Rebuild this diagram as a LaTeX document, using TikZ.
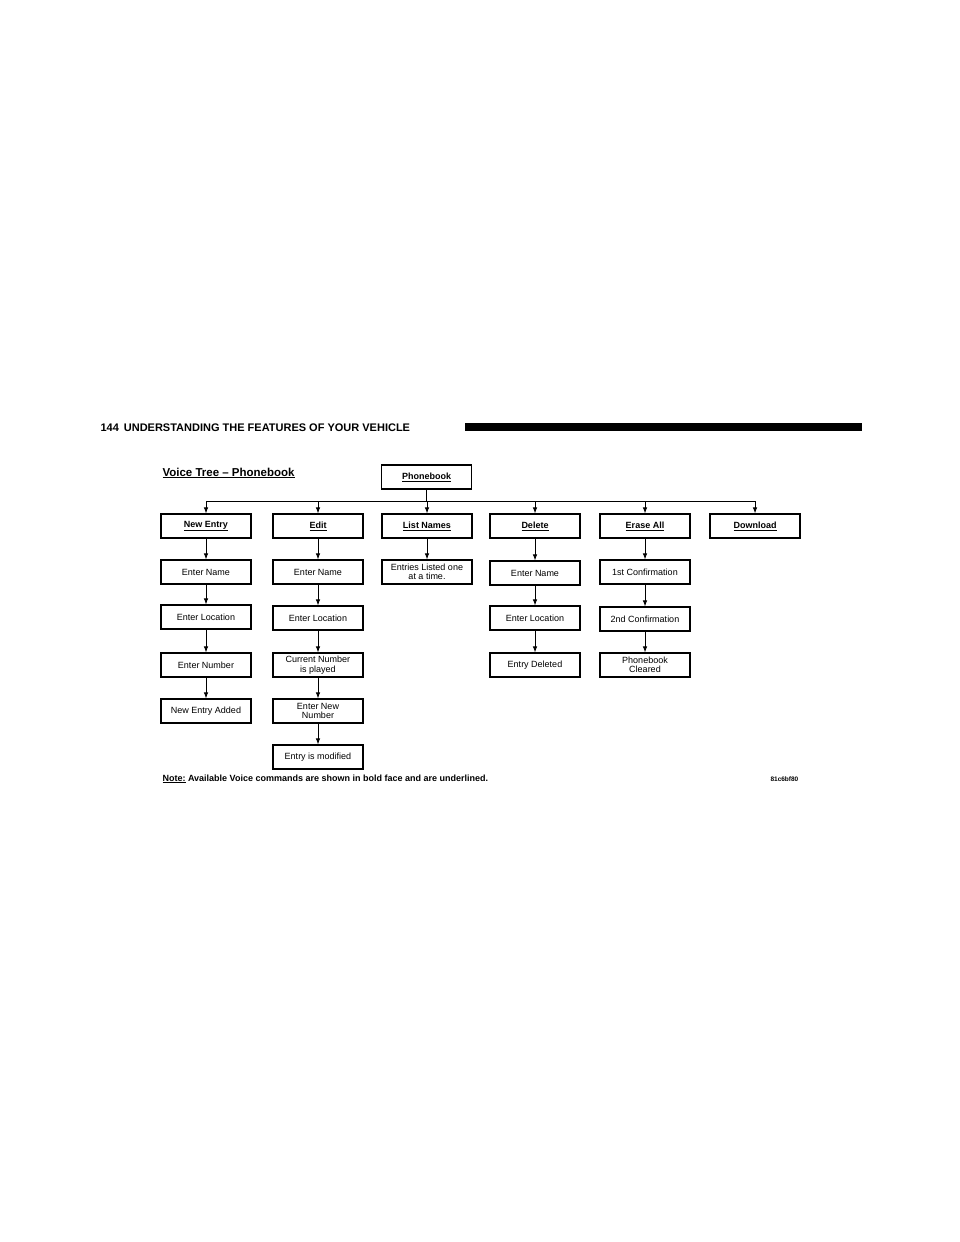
\documentclass[tikz,border=0pt]{standalone}
\usepackage{fontspec}
\setmainfont{Liberation Sans}
\usetikzlibrary{arrows.meta}
\begin{document}
\begin{tikzpicture}[x=1pt,y=-1pt,
 box/.style={draw,line width=1.2pt,minimum width=90pt,minimum height=24pt,inner sep=1pt,align=center,font=\fontsize{9}{9.5}\selectfont},
 cmd/.style={box,font=\fontsize{9}{10}\selectfont\bfseries},
 arr/.style={line width=0.8pt,-{Latex[length=6pt,width=4.5pt]}}]
\useasboundingbox (0,0) rectangle (960,1242);
\node[anchor=base west,font=\fontsize{11}{12}\selectfont\bfseries] (hdr) at (97,431) {144\hspace{5pt}UNDERSTANDING THE FEATURES OF YOUR VEHICLE};
\fill (465,423) rectangle (862,431);
\node[anchor=base west,font=\fontsize{11.5}{12}\selectfont\bfseries] (title) at (159,476) {\underline{Voice Tree – Phonebook}};
\node[cmd] (pb) at (426.5,477) {\underline{Phonebook}};
\foreach \n/\x/\t in {ne/206/New Entry,ed/318/Edit,ln/427/List Names,de/535/Delete,ea/645/Erase All,dl/755/Download}{
 \node[cmd] (\n) at (\x,526) {\underline{\t}};
}
\coordinate (hl) at (206,501); \coordinate (hr) at (755,501);
\draw[line width=0.8pt] (hl) -- (hr);
\draw[line width=0.8pt] (pb.south) -- (pb.south |- hl);
\foreach \n in {ne,ed,ln,de,ea,dl}{ \draw[arr] (\n.north |- hl) -- (\n.north); }
% New Entry column
\node[box] (ne1) at (206,572) {Enter Name};
\node[box] (ne2) at (206,617) {Enter Location};
\node[box] (ne3) at (206,665) {Enter Number};
\node[box] (ne4) at (206,711) {New Entry Added};
% Edit column
\node[box] (ed1) at (318,572) {Enter Name};
\node[box] (ed2) at (318,618) {Enter Location};
\node[box] (ed3) at (318,665) {Current Number\\is played};
\node[box] (ed4) at (318,711) {Enter New\\Number};
\node[box] (ed5) at (318,757) {Entry is modified};
% List names
\node[box] (ln1) at (427,572) {Entries Listed one\\at a time.};
% Delete
\node[box] (de1) at (535,573) {Enter Name};
\node[box] (de2) at (535,618) {Enter Location};
\node[box] (de3) at (535,665) {Entry Deleted};
% Erase all
\node[box] (ea1) at (645,572) {1st Confirmation};
\node[box] (ea2) at (645,619) {2nd Confirmation};
\node[box] (ea3) at (645,665) {Phonebook\\Cleared};
\foreach \a/\b in {ne/ne1,ne1/ne2,ne2/ne3,ne3/ne4,ed/ed1,ed1/ed2,ed2/ed3,ed3/ed4,ed4/ed5,ln/ln1,de/de1,de1/de2,de2/de3,ea/ea1,ea1/ea2,ea2/ea3}{
 \draw[arr] (\a.south) -- (\b.north);
}
\node[anchor=base west,font=\fontsize{9}{10}\selectfont\bfseries] (note) at (159,781) {\underline{Note:} Available Voice commands are shown in bold face and are underlined.};
\node[anchor=base west,font=\fontsize{6.5}{7}\selectfont\bfseries] (code) at (767,781) {81c6bf80};
\end{tikzpicture}
\end{document}
